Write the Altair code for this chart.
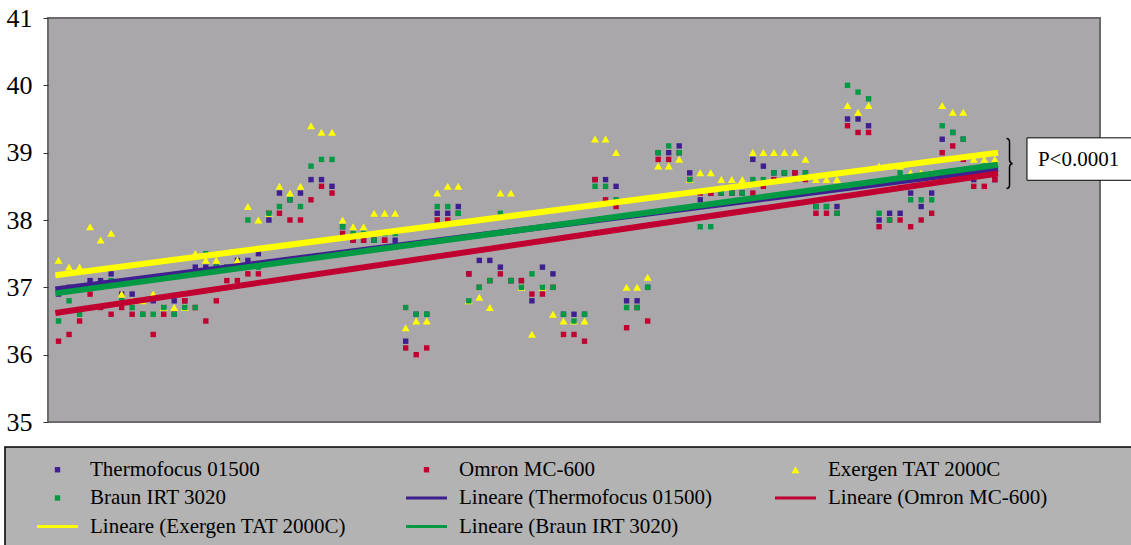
import altair as alt
import pandas as pd

# ---------------- data ----------------
series_names = ["Thermofocus 01500", "Omron MC-600", "Exergen TAT 2000C", "Braun IRT 3020"]
trend_names = ["Lineare (Thermofocus 01500)", "Lineare (Omron MC-600)",
               "Lineare (Exergen TAT 2000C)", "Lineare (Braun IRT 3020)"]

thermofocus = [
    36.9, 37.0, 37.0, 37.1, 37.1, 37.2, 36.9, 36.9, 36.8, 36.8,
    36.7, 36.8, 36.8, 37.3, 37.3, 37.3, 37.3, 37.4, 37.4, 37.5,
    38.0, 38.4, 38.3, 38.4, 38.6, 38.6, 38.5, 37.9, 37.7, 37.7,
    37.7, 37.7, 37.7, 36.2, 36.6, 36.6, 38.1, 38.1, 38.2, 37.2,
    37.4, 37.4, 37.3, 37.1, 37.1, 36.8, 37.3, 37.2, 36.6, 36.6,
    36.6, 38.6, 38.6, 38.5, 36.8, 36.8, 37.0, 39.0, 39.0, 39.1,
    38.7, 38.3, 38.4, 38.4, 38.4, 38.4, 38.9, 38.8, 38.7, 38.7,
    38.7, 38.7, 38.2, 38.2, 38.2, 39.5, 39.5, 39.4, 38.0, 38.1,
    38.1, 38.4, 38.2, 38.4, 39.2, 39.3, 39.2, 38.6, 38.7, 38.6]
omron = [
    36.2, 36.3, 36.5, 36.9, 36.7, 36.6, 36.7, 36.6, 36.6, 36.3,
    36.6, 36.6, 36.8, 36.7, 36.5, 36.8, 37.1, 37.1, 37.2, 37.2,
    38.1, 38.1, 38.0, 38.0, 38.3, 38.5, 38.4, 37.8, 37.7, 37.7,
    37.7, 37.7, 37.6, 36.1, 36.0, 36.1, 38.0, 38.0, 38.1, 37.2,
    37.0, 37.1, 37.2, 37.1, 37.1, 36.9, 36.9, 37.0, 36.3, 36.3,
    36.2, 38.6, 38.3, 38.2, 36.4, 36.7, 36.5, 38.9, 38.9, 39.0,
    38.6, 38.4, 38.4, 38.4, 38.4, 38.4, 38.4, 38.5, 38.6, 38.7,
    38.7, 38.6, 38.1, 38.1, 38.1, 39.4, 39.3, 39.3, 37.9, 38.0,
    38.0, 37.9, 38.0, 38.1, 39.0, 39.1, 38.9, 38.5, 38.5, 38.6]
exergen = [
    37.4, 37.3, 37.3, 37.9, 37.7, 37.8, 36.9, 36.8, 36.8, 36.9,
    36.7, 36.7, 36.7, 37.5, 37.4, 37.4, 37.3, 37.4, 38.2, 38.0,
    38.1, 38.5, 38.4, 38.5, 39.4, 39.3, 39.3, 38.0, 37.9, 37.9,
    38.1, 38.1, 38.1, 36.4, 36.5, 36.5, 38.4, 38.5, 38.5, 36.8,
    36.85, 36.7, 38.4, 38.4, 37.0, 36.3, 37.0, 36.6, 36.5, 36.5,
    36.5, 39.2, 39.2, 39.0, 37.0, 37.0, 37.15, 38.8, 38.8, 38.9,
    38.6, 38.7, 38.7, 38.6, 38.6, 38.6, 39.0, 39.0, 39.0, 39.0,
    39.0, 38.9, 38.6, 38.6, 38.6, 39.7, 39.6, 39.7, 38.8, 38.8,
    38.8, 38.7, 38.7, 38.7, 39.7, 39.6, 39.6, 38.9, 38.9, 38.9]
braun = [
    36.5, 36.8, 36.6, 37.0, 37.0, 37.1, 36.8, 36.7, 36.6, 36.6,
    36.7, 36.6, 36.7, 36.7, 37.5, 37.3, 37.3, 37.3, 38.0, 37.3,
    38.1, 38.2, 38.3, 38.2, 38.8, 38.9, 38.9, 37.9, 37.8, 37.8,
    37.7, 37.8, 37.8, 36.7, 36.6, 36.6, 38.2, 38.2, 38.1, 36.8,
    37.0, 37.1, 38.1, 37.1, 37.0, 37.2, 37.0, 37.0, 36.6, 36.5,
    36.6, 38.5, 38.5, 38.3, 36.7, 36.7, 37.0, 39.0, 39.1, 39.0,
    38.6, 37.9, 37.9, 38.4, 38.4, 38.4, 38.6, 38.6, 38.7, 38.7,
    38.6, 38.7, 38.2, 38.2, 38.1, 40.0, 39.9, 39.8, 38.1, 38.0,
    38.7, 38.3, 38.3, 38.3, 39.4, 39.3, 39.2, 38.7, 38.8, 38.7]

# linear trend lines: value at first and last measurement position
trend_x_start = 0.7
trend_x_end = 90.3
trend_start = [36.97, 36.62, 37.18, 36.91]
trend_end = [38.76, 38.69, 39.00, 38.82]

y_ticks = [35, 36, 37, 38, 39, 40, 41]
p_label = "P<0.0001"

# ---------------- styling ----------------
SERIF = "Liberation Serif"
SQUARE = "M-0.27,-0.27H0.27V0.27H-0.27Z"
TRI = "M0,-0.36L0.4,0.34H-0.4Z"
BAR = "M-2.05,-0.15H2.05V0.15H-2.05Z"
BRACE = "M-0.12,-1Q0,-1 0,-0.85L0,-0.15Q0,-0.02 0.12,0Q0,0.02 0,0.15L0,0.85Q0,1 -0.12,1"

style = {
    "Thermofocus 01500": ("#3f1f8f", SQUARE),
    "Omron MC-600": ("#c00030", SQUARE),
    "Exergen TAT 2000C": ("#ffff00", TRI),
    "Braun IRT 3020": ("#009944", SQUARE),
    "Lineare (Thermofocus 01500)": ("#3f1f8f", BAR),
    "Lineare (Omron MC-600)": ("#c00030", BAR),
    "Lineare (Exergen TAT 2000C)": ("#ffff00", BAR),
    "Lineare (Braun IRT 3020)": ("#009944", BAR),
}
# legend is filled column by column (3 rows)
legend_order = [series_names[0], series_names[3], trend_names[2],
                series_names[1], trend_names[0], trend_names[3],
                series_names[2], trend_names[1]]
palette = [style[n][0] for n in legend_order]
shapes = [style[n][1] for n in legend_order]

# ---------------- tables ----------------
cols = list(range(1, len(thermofocus) + 1))
rows = []
for name, vals in zip(series_names, [thermofocus, omron, exergen, braun]):
    for i, v in zip(cols, vals):
        rows.append({"idx": i, "temp": v, "label": name})
points_df = pd.DataFrame(rows)

trend_rows = []
for name, a, b in zip(trend_names, trend_start, trend_end):
    trend_rows.append({"idx": trend_x_start, "temp": a, "label": name})
    trend_rows.append({"idx": trend_x_end, "temp": b, "label": name})
trend_df = pd.DataFrame(trend_rows)

x_scale = alt.Scale(domain=[0, 100], nice=False, zero=False)
y_scale = alt.Scale(domain=[35, 41], nice=False, zero=False)
color_scale = alt.Scale(domain=legend_order, range=palette)
shape_scale = alt.Scale(domain=legend_order, range=shapes)

y_axis = alt.Axis(
    values=y_ticks, format="d", grid=False, domain=False, ticks=True, tickSize=5,
    tickColor="#333333", labelFont=SERIF, labelFontSize=26, labelColor="black",
    labelPadding=11, title=None)

legend = alt.Legend(
    title=None, orient="none", legendX=-1, legendY=441, columns=3,
    gridAlign="all", columnPadding=59, rowPadding=6.5, padding=0,
    symbolSize=400, symbolStrokeWidth=0, labelFont=SERIF, labelFontSize=21,
    labelColor="black", labelOffset=22, labelLimit=500,
)

# legend background box (below the plot area)
legend_box = alt.Chart(pd.DataFrame([{"x": -4.09, "x2": 110, "y": 34.63, "y2": 30}])).mark_rect(
    fill="#b3b3b3", stroke="black", strokeWidth=1.5
).encode(
    x=alt.X("x:Q", scale=x_scale, axis=None),
    x2="x2:Q",
    y=alt.Y("y:Q", scale=y_scale, axis=y_axis),
    y2="y2:Q",
)

points = alt.Chart(points_df).mark_point(filled=True, size=400, strokeWidth=0, opacity=1).encode(
    x=alt.X("idx:Q", scale=x_scale, axis=None),
    y=alt.Y("temp:Q", scale=y_scale, axis=y_axis),
    color=alt.Color("label:N", scale=color_scale, legend=legend),
    shape=alt.Shape("label:N", scale=shape_scale, legend=legend),
)

lines = alt.Chart(trend_df).mark_line(strokeWidth=6, strokeCap="butt").encode(
    x=alt.X("idx:Q", scale=x_scale, axis=None),
    y=alt.Y("temp:Q", scale=y_scale, axis=y_axis),
    color=alt.Color("label:N", scale=color_scale, legend=None),
    detail="label:N",
    order=alt.Order("idx:Q"),
)

p_box = alt.Chart(pd.DataFrame([{"x": 93.06, "x2": 110, "y": 39.22, "y2": 38.59}])).mark_rect(
    fill="white", stroke="black", strokeWidth=1
).encode(
    x=alt.X("x:Q", scale=x_scale, axis=None), x2="x2:Q",
    y=alt.Y("y:Q", scale=y_scale, axis=y_axis), y2="y2:Q",
)
p_text = alt.Chart(pd.DataFrame([{"x": 94.1, "y": 38.89, "t": p_label}])).mark_text(
    align="left", baseline="middle", font=SERIF, fontSize=21, color="black"
).encode(
    x=alt.X("x:Q", scale=x_scale, axis=None),
    y=alt.Y("y:Q", scale=y_scale, axis=y_axis),
    text="t:N",
)
brace = alt.Chart(pd.DataFrame([{"x": 91.4, "y": 38.84}])).mark_point(
    shape=BRACE, filled=False, stroke="black", strokeWidth=1.5, size=2500, opacity=1
).encode(
    x=alt.X("x:Q", scale=x_scale, axis=None),
    y=alt.Y("y:Q", scale=y_scale, axis=y_axis),
)

chart = alt.layer(legend_box, points, lines, brace, p_box, p_text).properties(
    width=1052, height=404,
    autosize=alt.AutoSizeParams(type="none"),
    padding={"left": 48, "top": 18, "right": 31, "bottom": 123},
    background="white",
).configure_view(
    fill="#a9a7a9", stroke="#6b6b6b", strokeWidth=2
).configure_legend(
    labelFont=SERIF, labelFontSize=21, labelColor="black"
).configure_axis(
    labelFont=SERIF
)

chart.save("out.html", embed_options={"renderer": "svg", "actions": False})
